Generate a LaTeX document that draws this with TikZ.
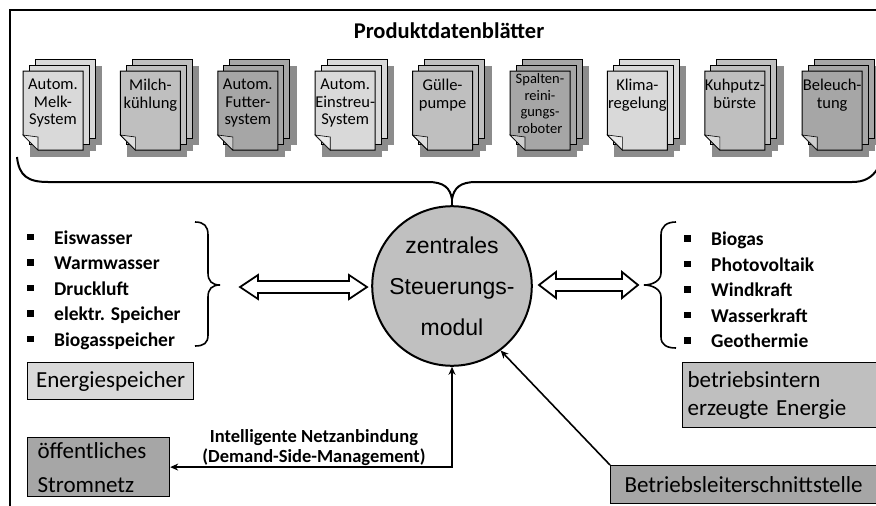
\documentclass[tikz,border=0pt]{standalone}
\usepackage{fontspec}
\setmainfont{Carlito}
\newfontfamily\arialf{Liberation Sans}
\usetikzlibrary{arrows.meta}
\definecolor{cA}{HTML}{D9D9D9}
\definecolor{cB}{HTML}{BFBFBF}
\definecolor{cC}{HTML}{A6A6A6}
\definecolor{shad}{HTML}{8C8C8C}
\definecolor{cfill}{HTML}{C0C0C0}
\newcommand\bul{\makebox[27pt][l]{\raisebox{4pt}{\rule{6.5pt}{6.5pt}}}}
\tikzset{
  box/.style={draw, line width=1.2pt, inner sep=0pt},
  boxfont/.style={font=\fontsize{23}{28}\selectfont},
  pagetxt/.style={anchor=north, align=center, inner sep=0pt},
  bracket/.style={line width=1.6pt},
  hollowarrow/.style={draw, fill=white, line width=1.8pt, line join=miter},
  conn/.style={line width=1.6pt, >={Stealth[length=8pt,width=7pt]}}
}
\begin{document}
\begin{tikzpicture}[x=1pt,y=-1pt]
\useasboundingbox (0,0) rectangle (876,506);
\fill[white] (0,0) rectangle (876,506);
% frame
\draw[line width=2pt] (10,510) -- (10,10) -- (880,10);
% title
\node[font=\bfseries\fontsize{22.5}{26}\selectfont] (title) at (449,31) {Produktdatenblätter};
% document stacks
\foreach \i/\col/\fs/\ls/\ty/\txt in {
  0/cA/16.5/17.5/79/{Autom.\\Melk-\\System},
  1/cB/16.5/17.5/79/{Milch-\\kühlung},
  2/cC/16.5/17.5/79/{Autom.\\Futter-\\system},
  3/cA/16.5/17.5/79/{Autom.\\Einstreu-\\System},
  4/cB/16.5/17.5/79/{Gülle-\\pumpe},
  5/cC/14.5/16.8/73/{Spalten-\\reini-\\gungs-\\roboter},
  6/cA/16.5/17.5/79/{Klima-\\regelung},
  7/cB/16.5/17.5/79/{Kuhputz-\\bürste},
  8/cC/16.5/17.5/79/{Beleuch-\\tung}} {
  \pgfmathsetmacro\L{23+97.4*\i}
  \foreach \o in {12,6,0} {
    \fill[shad] (\L+\o+7,78-\o) rectangle ++(60,79);
  }
  \foreach \o in {12,6} {
    \filldraw[fill=\col, draw=black, line width=1pt] (\L+\o,71-\o) rectangle ++(60,79);
  }
  \filldraw[fill=\col, line width=1pt] (\L,71) -- ++(60,0) -- ++(0,79) -- ++(-45,0) -- ++(-15,-15) -- cycle;
  \filldraw[fill=\col!55!white, line width=0.6pt] (\L,135) -- (\L+15,137) -- (\L+15,150) -- cycle;
  \node[pagetxt, font=\fontsize{\fs}{\ls}\selectfont] (d\i) at (\L+30,\ty) {\txt};
}
% central module
\node[circle, draw, line width=2pt, fill=cfill, minimum size=154pt, inner sep=0pt, align=center,
      font=\arialf\fontsize{23}{41}\selectfont] (ctrl) at (452,286) {zentrales\\Steuerungs-\\modul};
% top brace
\draw[line width=2pt] (17,157) .. controls (19,176) and (28,182) .. (48,182) -- (428,182)
  .. controls (444,182) and (450,188) .. (452,199)
  .. controls (454,188) and (460,182) .. (476,182) -- (852,182)
  .. controls (864,182) and (872,178) .. (878,168);
\coordinate (btip) at (452,199);
\draw[line width=2pt] (btip) -- (ctrl.north);
% left list
\node[anchor=west, align=left, inner sep=0pt, font=\bfseries\fontsize{19.5}{25.5}\selectfont] (lsL) at (27,290)
 {\bul Eiswasser\\\bul Warmwasser\\\bul Druckluft\\\bul elektr. Speicher\\\bul Biogasspeicher};
% right list
\node[anchor=west, align=left, inner sep=0pt, font=\bfseries\fontsize{19.5}{25.5}\selectfont] (lsR) at (684,290)
 {\bul Biogas\\\bul Photovoltaik\\\bul Windkraft\\\bul Wasserkraft\\\bul Geothermie};
% left brace
\draw[bracket] (195,222) .. controls (204,222) and (208,226) .. (208,235) -- (208,273)
  .. controls (208,281) and (212,285) .. (220,285)
  .. controls (212,285) and (208,289) .. (208,297) -- (208,335)
  .. controls (208,343) and (204,346) .. (195,346);
% right brace
\draw[bracket] (676,222) .. controls (667,222) and (661,226) .. (661,235) -- (661,273)
  .. controls (661,281) and (652,285) .. (644,285)
  .. controls (652,285) and (661,289) .. (661,297) -- (661,337)
  .. controls (661,345) and (667,348) .. (676,348);
% hollow double arrows
\draw[hollowarrow] (240,287) -- (258,275) -- (258,281) -- (349,281) -- (349,275) -- (367,287)
  -- (349,299) -- (349,293) -- (258,293) -- (258,299) -- cycle;
\draw[hollowarrow] (539,285) -- (556,272) -- (556,279) -- (622,279) -- (622,272) -- (638,285)
  -- (622,298) -- (622,291) -- (556,291) -- (556,298) -- cycle;
% boxes
\node[box, boxfont, fill=cA, minimum width=166pt, minimum height=37pt, anchor=north west] (es) at (27,362) {Energiespeicher};
\node[box, fill=cC, anchor=north west, inner xsep=10pt, text width=122pt, minimum height=59pt, align=left,
      font=\fontsize{23}{34}\selectfont] (sn) at (27,437) {öffentliches\\Stromnetz};
\node[box, boxfont, fill=cB, anchor=north west, inner xsep=5pt, text width=190pt, minimum height=65pt, align=left] (be) at (682,362) {betriebsintern\\erzeugte Energie};
\node[box, boxfont, fill=cC, anchor=north west, minimum width=266pt, minimum height=38pt] (bs) at (610,465) {Betriebsleiterschnittstelle};
% connectors
\draw[conn, <->] (ctrl.south) |- (sn.east);
\node[font=\bfseries\fontsize{18.5}{20}\selectfont, align=center, inner sep=0pt] (lbl) at (314,448)
 {Intelligente Netzanbindung\\(Demand-Side-Management)};
\draw[conn, ->] (bs.north west) -- (ctrl.-53);
\end{tikzpicture}
\end{document}
